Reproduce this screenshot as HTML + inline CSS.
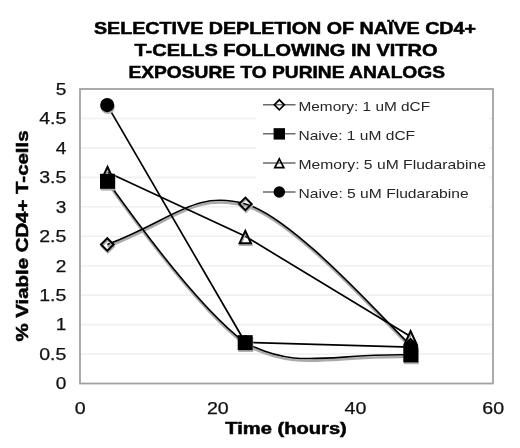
<!DOCTYPE html>
<html><head><meta charset="utf-8"><style>
html,body{margin:0;padding:0;background:#fff;}
body{width:520px;height:448px;overflow:hidden;}
svg{display:block;will-change:transform;}
.bt{font-family:"Liberation Sans",sans-serif;font-weight:bold;font-size:16.4px;fill:#000;stroke:#000;stroke-width:0.5px;}
.tk{font-family:"Liberation Sans",sans-serif;font-size:16px;fill:#111;stroke:#111;stroke-width:0.25px;}
.lg{font-family:"Liberation Sans",sans-serif;font-size:13.4px;fill:#262626;}
.mo{fill:none;stroke:#000;stroke-width:2;stroke-linejoin:miter;}
.mf{fill:#000;stroke:none;}
.lm .mo{stroke-width:1.7;}
.sh .mo{stroke:#b0b0b0;}
.sh .mf{fill:#b0b0b0;}
</style></head><body>
<svg width="520" height="448" viewBox="0 0 520 448">
<path d="M81 354.05 H492 M81 324.6 H492 M81 295.15 H492 M81 265.7 H492 M81 236.25 H492 M81 206.8 H492 M81 177.35 H492 M81 147.9 H492 M81 118.45 H492" stroke="#f0f0f0" stroke-width="1.6" fill="none"/>
<rect x="256" y="90" width="233" height="120" fill="#fff"/>
<rect x="80" y="89" width="413" height="294.5" fill="none" stroke="#a2a2a2" stroke-width="1.8"/>
<path d="M107.3 244.5 C174.1 219.2 194.1 189.7 245.4 203.9 C294.4 217.4 387.5 324.1 410.6 345.2" transform="translate(0.3 2.2)" stroke="#aaa" stroke-width="2.4" fill="none"/>
<path d="M107.5 181.3 C129.5 212.2 198 307.8 245.2 342.65 C297.9 370.7 328.4 353.1 410.8 354.9" transform="translate(0.3 2.2)" stroke="#aaa" stroke-width="2.4" fill="none"/>
<path d="M107.3 244.5 C174.1 219.2 194.1 189.7 245.4 203.9 C294.4 217.4 387.5 324.1 410.6 345.2" stroke="#000" stroke-width="1.6" fill="none"/>
<path d="M107.5 181.3 C129.5 212.2 198 307.8 245.2 342.65 C297.9 370.7 328.4 353.1 410.8 354.9" stroke="#000" stroke-width="1.6" fill="none"/>
<path d="M107.5 172.3 L245.3 236.3 L410.6 336.5" stroke="#000" stroke-width="1.7" fill="none"/>
<path d="M107.2 105.1 L245.2 342.3 L410.8 347.2" stroke="#000" stroke-width="1.7" fill="none"/>
<g transform="translate(0.6 1.8)" class="sh"><path class="mo" d="M101 244.5 L107.3 238.2 L113.6 244.5 L107.3 250.8 Z"/><path class="mo" d="M239.1 203.9 L245.4 197.6 L251.7 203.9 L245.4 210.2 Z"/><path class="mo" d="M404.3 345.2 L410.6 338.9 L416.9 345.2 L410.6 351.5 Z"/><path class="mo" d="M107.5 166.9 L113.2 179.2 L101.8 179.2 Z"/><path class="mo" d="M245.3 230.9 L251 243.2 L239.6 243.2 Z"/><path class="mo" d="M410.6 331.1 L416.3 343.4 L404.9 343.4 Z"/><rect class="mf" x="100" y="173.8" width="15" height="15"/><rect class="mf" x="237.7" y="335.15" width="15" height="15"/><rect class="mf" x="403.3" y="347.4" width="15" height="15"/><circle class="mf" cx="107.2" cy="105.1" r="7.05"/><circle class="mf" cx="245.2" cy="342.3" r="7.05"/><circle class="mf" cx="410.8" cy="347.2" r="7.05"/></g>
<g><path class="mo" d="M101 244.5 L107.3 238.2 L113.6 244.5 L107.3 250.8 Z"/><path class="mo" d="M239.1 203.9 L245.4 197.6 L251.7 203.9 L245.4 210.2 Z"/><path class="mo" d="M404.3 345.2 L410.6 338.9 L416.9 345.2 L410.6 351.5 Z"/></g>
<g><path class="mo" d="M107.5 166.9 L113.2 179.2 L101.8 179.2 Z"/><path class="mo" d="M245.3 230.9 L251 243.2 L239.6 243.2 Z"/><path class="mo" d="M410.6 331.1 L416.3 343.4 L404.9 343.4 Z"/></g>
<g><rect class="mf" x="100" y="173.8" width="15" height="15"/><rect class="mf" x="237.7" y="335.15" width="15" height="15"/><rect class="mf" x="403.3" y="347.4" width="15" height="15"/></g>
<g><circle class="mf" cx="107.2" cy="105.1" r="7.05"/><circle class="mf" cx="245.2" cy="342.3" r="7.05"/><circle class="mf" cx="410.8" cy="347.2" r="7.05"/></g>
<path d="M263 104.8 H295.5" stroke="#6a6a6a" stroke-width="1.5"/>
<g class="lm"><path class="mo" d="M274.3 104.8 L279.3 99.8 L284.3 104.8 L279.3 109.8 Z"/></g>
<text x="298.5" y="110.5" class="lg" textLength="131.6" lengthAdjust="spacingAndGlyphs">Memory: 1 uM dCF</text>
<path d="M263 133.87 H295.5" stroke="#6a6a6a" stroke-width="1.5"/>
<g class="lm"><rect class="mf" x="273.6" y="128.17" width="11.4" height="11.4"/></g>
<text x="298.5" y="139.57" class="lg" textLength="116.6" lengthAdjust="spacingAndGlyphs">Naive: 1 uM dCF</text>
<path d="M263 162.94 H295.5" stroke="#6a6a6a" stroke-width="1.5"/>
<g class="lm"><path class="mo" d="M279.3 158.94 L283.8 167.54 L274.8 167.54 Z"/></g>
<text x="298.5" y="168.64" class="lg" textLength="187.4" lengthAdjust="spacingAndGlyphs">Memory: 5 uM Fludarabine</text>
<path d="M263 192.01 H295.5" stroke="#6a6a6a" stroke-width="1.5"/>
<g class="lm"><circle class="mf" cx="279.3" cy="192.01" r="5.75"/></g>
<text x="298.5" y="197.71" class="lg" textLength="170.1" lengthAdjust="spacingAndGlyphs">Naive: 5 uM Fludarabine</text>
<text x="55.7" y="389.3" class="tk" textLength="10.6" lengthAdjust="spacingAndGlyphs">0</text>
<text x="39.2" y="359.85" class="tk" textLength="27.1" lengthAdjust="spacingAndGlyphs">0.5</text>
<text x="55.7" y="330.4" class="tk" textLength="10.6" lengthAdjust="spacingAndGlyphs">1</text>
<text x="39.2" y="300.95" class="tk" textLength="27.1" lengthAdjust="spacingAndGlyphs">1.5</text>
<text x="55.7" y="271.5" class="tk" textLength="10.6" lengthAdjust="spacingAndGlyphs">2</text>
<text x="39.2" y="242.05" class="tk" textLength="27.1" lengthAdjust="spacingAndGlyphs">2.5</text>
<text x="55.7" y="212.6" class="tk" textLength="10.6" lengthAdjust="spacingAndGlyphs">3</text>
<text x="39.2" y="183.15" class="tk" textLength="27.1" lengthAdjust="spacingAndGlyphs">3.5</text>
<text x="55.7" y="153.7" class="tk" textLength="10.6" lengthAdjust="spacingAndGlyphs">4</text>
<text x="39.2" y="124.25" class="tk" textLength="27.1" lengthAdjust="spacingAndGlyphs">4.5</text>
<text x="55.7" y="94.8" class="tk" textLength="10.6" lengthAdjust="spacingAndGlyphs">5</text>
<text x="74.75" y="414.2" class="tk" textLength="10.9" lengthAdjust="spacingAndGlyphs">0</text>
<text x="206.97" y="414.2" class="tk" textLength="21.8" lengthAdjust="spacingAndGlyphs">20</text>
<text x="344.63" y="414.2" class="tk" textLength="21.8" lengthAdjust="spacingAndGlyphs">40</text>
<text x="482.3" y="414.2" class="tk" textLength="21.8" lengthAdjust="spacingAndGlyphs">60</text>
<text x="225.3" y="434.4" class="bt" textLength="121.5" lengthAdjust="spacingAndGlyphs">Time (hours)</text>
<text transform="translate(28.2 341.5) rotate(-90)" x="0" y="0" class="bt" textLength="211" lengthAdjust="spacingAndGlyphs">% Viable CD4+ T-cells</text>
<text x="94" y="34" class="bt" textLength="382" lengthAdjust="spacingAndGlyphs">SELECTIVE DEPLETION OF NAÏVE CD4+</text>
<text x="134.5" y="56.1" class="bt" textLength="303" lengthAdjust="spacingAndGlyphs">T-CELLS FOLLOWING IN VITRO</text>
<text x="128.5" y="77.7" class="bt" textLength="316.5" lengthAdjust="spacingAndGlyphs">EXPOSURE TO PURINE ANALOGS</text>
</svg>
</body></html>
